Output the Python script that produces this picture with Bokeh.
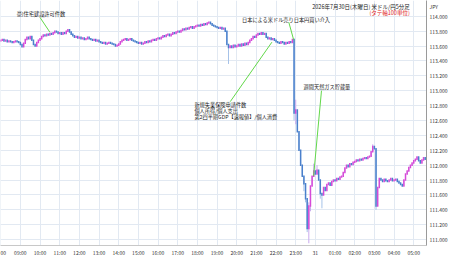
from bokeh.plotting import figure
from bokeh.models import ColumnDataSource, FixedTicker, Range1d
from bokeh.core.properties import value
from bokeh.embed import file_html
from bokeh.resources import INLINE

# ---- data: USD/JPY 5-minute closes, 08:00 (Jul 30) .. 05:35 (Jul 31) ----
first_open = 113.67
closes = [
    113.68, 113.69, 113.67, 113.68, 113.66, 113.67, 113.66, 113.65, 113.66, 113.67, 113.66, 113.65,
    113.62, 113.59, 113.64, 113.69, 113.72, 113.70, 113.73, 113.68, 113.62, 113.60, 113.65, 113.68,
    113.70, 113.73, 113.75, 113.74, 113.76, 113.75, 113.77, 113.76, 113.78, 113.80, 113.79, 113.77,
    113.78, 113.76, 113.78, 113.77, 113.80, 113.82, 113.79, 113.76, 113.74, 113.72, 113.73, 113.71,
    113.72, 113.70, 113.71, 113.69, 113.70, 113.72, 113.70, 113.69, 113.68, 113.69, 113.67, 113.68,
    113.66, 113.65, 113.64, 113.65, 113.63, 113.64, 113.65, 113.64, 113.63, 113.62, 113.60, 113.61,
    113.63, 113.66, 113.68, 113.69, 113.70, 113.68, 113.69, 113.70, 113.68, 113.67, 113.66, 113.65,
    113.64, 113.65, 113.63, 113.64, 113.66, 113.65, 113.67, 113.66, 113.68, 113.69, 113.68, 113.70,
    113.71, 113.70, 113.72, 113.74, 113.73, 113.75, 113.76, 113.74, 113.76, 113.78, 113.77, 113.79,
    113.80, 113.79, 113.81, 113.83, 113.82, 113.84, 113.83, 113.85, 113.86, 113.84, 113.86, 113.87,
    113.88, 113.87, 113.89, 113.88, 113.90, 113.89, 113.91, 113.92, 113.90, 113.88, 113.87, 113.86,
    113.85, 113.84, 113.85, 113.83, 113.84, 113.80, 113.62, 113.58, 113.60, 113.58, 113.61, 113.59,
    113.60, 113.62, 113.60, 113.63, 113.61, 113.64, 113.62, 113.65, 113.68, 113.70, 113.73, 113.72,
    113.75, 113.77, 113.76, 113.78, 113.76, 113.77, 113.72, 113.70, 113.71, 113.69, 113.70, 113.68,
    113.66, 113.65, 113.64, 113.66, 113.65, 113.63, 113.65, 113.64, 113.66, 113.65, 113.69, 112.70,
    112.74, 112.45, 112.20, 112.00, 111.85, 111.75, 111.55, 111.15, 111.45, 111.72, 111.85, 111.92,
    111.88, 111.93, 111.80, 111.62, 111.60, 111.70, 111.66, 111.74, 111.76, 111.73, 111.78, 111.80,
    111.79, 111.82, 111.81, 111.84, 111.85, 111.90, 111.96, 112.00, 111.98, 112.02, 112.01, 112.04,
    112.05, 112.07, 112.06, 112.08, 112.07, 112.09, 112.10, 112.09, 112.11, 112.12, 112.18, 112.25,
    112.22, 111.45, 111.70, 111.82, 111.80, 111.78, 111.81, 111.79, 111.78, 111.80, 111.82, 111.79,
    111.80, 111.81, 111.78, 111.76, 111.74, 111.72, 111.80, 111.88, 111.92, 111.97, 112.00, 112.03,
    112.06, 112.08, 112.11, 112.06, 112.03, 112.07, 112.10, 112.08,
]
high_spikes = {179: 113.70, 180: 112.88, 188: 111.50, 191: 112.02, 193: 112.00, 227: 112.28}
low_spikes = {139: 113.36, 179: 112.60, 180: 112.55, 185: 111.65, 186: 111.50, 187: 111.10,
              188: 110.95, 189: 111.38, 195: 111.55, 196: 111.42, 229: 111.40}

tick_hours = list(range(0, 22))
# the 08:00 label is cut at the left edge of the picture; only "00" shows
tick_labels = ["00", "09:00", "10:00", "11:00", "12:00", "13:00", "14:00", "15:00", "16:00",
               "17:00", "18:00", "19:00", "20:00", "21:00", "22:00", "23:00", "31", "01:00",
               "02:00", "03:00", "04:00", "05:00"]
y_ticks = [111.0, 111.2, 111.4, 111.6, 111.8, 112.0, 112.2, 112.4, 112.6, 112.8,
           113.0, 113.2, 113.4, 113.6, 113.8, 114.0]
currency_text = "JPY"
currency_level = 114.133   # the axis header sits above the top tick

# events: (label lines, event hour since 08:00, price at the event candle)
events = [
    (["豪)住宅建設許可件数"], 2.5, 113.787),
    (["新規失業保険申請件数", "個人所得/個人支出", "第2四半期GDP【速報値】/個人消費"], 13.79, 113.653),
    (["日本による米ドル売り日本円買い介入"], 14.9, 113.68),
    (["週間天然ガス貯蔵量"], 15.91, 111.853),
]
title_text = "2026年7月30日(木曜日) 米ドル/円5分足"
unit_text = "(タテ軸100単位)"

# ---- build candles ----
n = len(closes)
hours = [i * 5 / 60 for i in range(n)]
opens = [first_open] + closes[:-1]
highs = [high_spikes.get(i, max(opens[i], closes[i])) for i in range(n)]
lows = [low_spikes.get(i, min(opens[i], closes[i])) for i in range(n)]
UP, DOWN = "#d64ad8", "#4a80cc"
UP_W, DOWN_W = "#c9a9ee", "#a6c2e8"
is_up = [closes[i] >= opens[i] for i in range(n)]
src = ColumnDataSource(dict(
    x=hours, o=opens, c=closes, h=highs, l=lows,
    body=[UP if u else DOWN for u in is_up],
    wick=[UP_W if u else DOWN_W for u in is_up],
))

FONT = "Noto Sans CJK JP"
Y_TOP = 114.213
p = figure(width=450, height=258, output_backend="svg", toolbar_location=None,
           x_range=Range1d(-0.01, 21.65), y_range=Range1d(110.92, Y_TOP),
           y_axis_location="right",
           min_border_left=0, min_border_top=0, min_border_right=19, min_border_bottom=11)
p.outline_line_color = None
p.background_fill_color = "white"

p.xaxis.ticker = FixedTicker(ticks=tick_hours)
p.xaxis.major_label_overrides = {h: t for h, t in zip(tick_hours, tick_labels)}
p.yaxis.ticker = FixedTicker(ticks=y_ticks + [currency_level])
overrides = {v: f"{v:.3f}" for v in y_ticks}
overrides[currency_level] = currency_text
p.yaxis.major_label_overrides = overrides
for ax in (p.xaxis[0], p.yaxis[0]):
    ax.major_label_text_font_size = "5px"
    ax.major_label_text_font = FONT
    ax.major_label_text_color = "#333333"
    ax.major_tick_in = 0
    ax.major_tick_out = 0
    ax.minor_tick_in = 0
    ax.minor_tick_out = 0
    ax.major_label_standoff = 3
p.xaxis.axis_line_color = "#c8c8c8"
p.yaxis.axis_line_color = "#9a9a9a"
p.xgrid.ticker = FixedTicker(ticks=tick_hours)
p.ygrid.ticker = FixedTicker(ticks=y_ticks)
p.xgrid.grid_line_color = "#e2e9f2"
p.ygrid.grid_line_color = "#e2e9f2"

p.segment(x0="x", y0="h", x1="x", y1="l", source=src, line_color="wick", line_width=1)
p.segment(x0="x", y0="o", x1="x", y1="c", source=src, line_color="body",
          line_width=1.5, line_cap="square")

# annotation leader lines and labels (offsets in data space relative to event point)
GREEN = "#62d84a"
offsets = [  # (line start dx, dy), (text x, y) relative to event
    ((-0.505, 0.20), (-1.69, 0.253)),
    ((-2.12, -0.80), (-3.94, -0.84)),
    ((-0.25, 0.24), (-2.63, 0.28)),
    ((0.40, 1.147), (-0.51, 1.20)),
]
for (lines, eh, ev), ((ldx, ldy), (tdx, tdy)) in zip(events, offsets):
    p.line([eh + ldx, eh], [ev + ldy, ev], line_color=GREEN, line_width=1)
    p.text(x=[eh + tdx] * len(lines), y=[ev + tdy - k * 0.078 for k in range(len(lines))],
           text=lines, text_font=value(FONT), text_font_size="5.2px", text_color="#222222",
           text_baseline="middle", text_align="left")

# header texts anchored to the top edge of the plot area
p.text(x=[20.8], y=[Y_TOP], text=[title_text], y_offset=2,
       text_font=value(FONT), text_font_size="5.5px", text_color="#222222",
       text_baseline="top", text_align="right")
p.text(x=[20.8], y=[Y_TOP], text=[unit_text], y_offset=8.5,
       text_font=value(FONT), text_font_size="5.5px", text_color="#e02020",
       text_baseline="top", text_align="right")

open("out.html", "w").write(file_html(p, INLINE))
